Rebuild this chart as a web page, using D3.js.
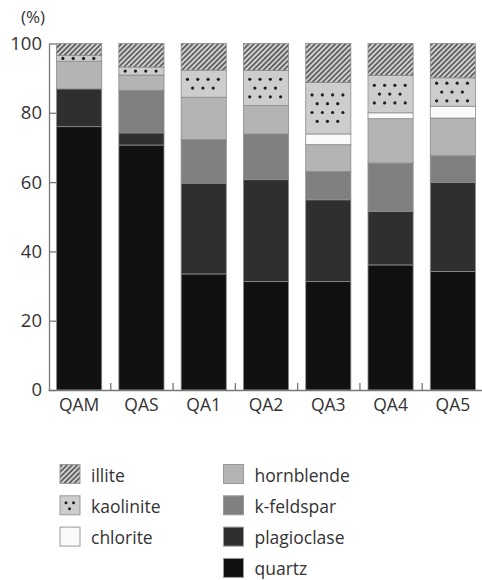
<!DOCTYPE html>
<html>
<head>
<meta charset="utf-8">
<script src="https://cdn.jsdelivr.net/npm/d3@7"></script>
<style>
  html, body { margin: 0; padding: 0; background: #fff; }
  svg { display: block; font-family: "Open Sans", "Noto Sans", sans-serif; }
</style>
</head>
<body>
<svg id="chart" width="482" height="580"></svg>
<script>
// Mineral composition (%) of each sample, stacked bottom to top.
const samples = ["QAM", "QAS", "QA1", "QA2", "QA3", "QA4", "QA5"];
const quartz      = [76.0, 70.7, 33.5, 31.3, 31.3, 36.1, 34.2];
const plagioclase = [10.9,  3.5, 26.2, 29.4, 23.6, 15.4, 25.7];
const kFeldspar   = [ 0.0, 12.3, 12.6, 13.2,  8.2, 14.0,  7.7];
const hornblende  = [ 8.0,  4.4, 12.2,  8.2,  7.7, 12.8, 10.9];
const chlorite    = [ 0.0,  0.0,  0.0,  0.0,  3.1,  1.7,  3.4];
const kaolinite   = [ 1.6,  2.3,  7.8, 10.1, 14.9, 10.8,  8.2];
const illite      = [ 3.5,  6.8,  7.7,  7.8, 11.2,  9.2,  9.9];
const yTicks = [0, 20, 40, 60, 80, 100];

const minerals = [
  { key: "quartz",      label: "quartz",      values: quartz,      fill: "#111111" },
  { key: "plagioclase", label: "plagioclase", values: plagioclase, fill: "#2f2f2f" },
  { key: "kFeldspar",   label: "k-feldspar",  values: kFeldspar,   fill: "#808080" },
  { key: "hornblende",  label: "hornblende",  values: hornblende,  fill: "#b4b4b4" },
  { key: "chlorite",    label: "chlorite",    values: chlorite,    fill: "#fafafa" },
  { key: "kaolinite",   label: "kaolinite",   values: kaolinite,   fill: "#cdcdcd" },
  { key: "illite",      label: "illite",      values: illite,      fill: "url(#hatch)" }
];

const table = samples.map((s, i) => {
  const row = { sample: s };
  minerals.forEach(m => { row[m.key] = m.values[i]; });
  return row;
});

const svg = d3.select("#chart");
const textColor = "#333";
const axisColor = "#777";
const edgeColor = "#8c8c8c";

// diagonal hatching used for illite
const defs = svg.append("defs");
const hatch = defs.append("pattern")
  .attr("id", "hatch")
  .attr("patternUnits", "userSpaceOnUse")
  .attr("width", 3.6).attr("height", 3.6)
  .attr("patternTransform", "rotate(45)");
hatch.append("rect").attr("width", 3.6).attr("height", 3.6).attr("fill", "#d2d2d2");
hatch.append("line")
  .attr("x1", 1.8).attr("y1", 0).attr("x2", 1.8).attr("y2", 3.6)
  .attr("stroke", "#4a4a4a").attr("stroke-width", 1.5);

const x = d3.scaleBand()
  .domain(samples)
  .range([48, 484])
  .paddingInner(0.275)
  .paddingOuter(0.1375);

const y = d3.scaleLinear().domain([0, 100]).range([390, 43.5]);

const stack = d3.stack().keys(minerals.map(m => m.key));
const series = stack(table);

const plot = svg.append("g");

// stacked segments
series.forEach((layer, li) => {
  const m = minerals[li];
  plot.append("g")
    .selectAll("rect")
    .data(layer.filter(d => d[1] - d[0] > 0))
    .join("rect")
    .attr("x", d => x(d.data.sample))
    .attr("width", x.bandwidth())
    .attr("y", d => y(d[1]))
    .attr("height", d => y(d[0]) - y(d[1]))
    .attr("fill", m.fill)
    .attr("stroke", edgeColor)
    .attr("stroke-width", 0.8);
});

// dot texture for kaolinite, rows centred inside each segment
const kLayer = series[minerals.findIndex(m => m.key === "kaolinite")];
const dotGroup = plot.append("g").attr("fill", "#1e1e1e");
kLayer.forEach(d => {
  const top = y(d[1]), h = y(d[0]) - y(d[1]);
  if (h <= 0) return;
  const bx = x(d.data.sample), bw = x.bandwidth();
  const rows = Math.min(4, Math.max(1, Math.floor((h + 7) / 11.5)));
  const gap = 8.8;
  const first = top + h / 2 - (rows - 1) * gap / 2;
  for (let r = 0; r < rows; r++) {
    const even = r % 2 === 0;
    const count = even ? 4 : 3;
    const start = even ? 0.14 : 0.254;
    for (let k = 0; k < count; k++) {
      dotGroup.append("circle")
        .attr("cx", bx + bw * (start + k * 0.228))
        .attr("cy", first + r * gap)
        .attr("r", 1.6);
    }
  }
});

// y axis (ticks point inward)
const yAxis = svg.append("g")
  .attr("transform", "translate(49,0)")
  .call(d3.axisLeft(y).tickValues(yTicks).tickSize(-7).tickSizeOuter(0).tickPadding(7));
yAxis.select(".domain").attr("stroke", axisColor).attr("stroke-width", 1.3);
yAxis.selectAll(".tick line").attr("stroke", axisColor).attr("stroke-width", 1.3);
yAxis.selectAll(".tick text")
  .attr("fill", textColor)
  .style("font-size", "18.5px")
  .style("font-family", "'Open Sans', sans-serif");

// x axis: baseline with inward ticks at sample boundaries
const edge = d3.scaleLinear()
  .domain([0, samples.length])
  .range([x.range()[0], x.range()[0] + x.step() * samples.length]);
const xEdges = svg.append("g")
  .attr("transform", "translate(0,390)")
  .call(d3.axisBottom(edge).tickValues(d3.range(1, samples.length + 1))
    .tickSize(-7).tickSizeOuter(0).tickFormat(""));
xEdges.select(".domain").attr("stroke", axisColor).attr("stroke-width", 1.3);
xEdges.selectAll(".tick line").attr("stroke", axisColor).attr("stroke-width", 1.3);

const xLabels = svg.append("g")
  .attr("transform", "translate(0,390)")
  .call(d3.axisBottom(x).tickSize(0).tickPadding(9));
xLabels.select(".domain").remove();
xLabels.selectAll(".tick text")
  .attr("fill", textColor)
  .style("font-size", "17.5px")
  .style("font-family", "'Open Sans', sans-serif");

// unit label
svg.append("text")
  .attr("x", 21).attr("y", 23)
  .attr("fill", textColor)
  .style("font-size", "17px")
  .text("(%)");

// legend
const legendCols = [
  ["illite", "kaolinite", "chlorite"],
  ["hornblende", "kFeldspar", "plagioclase", "quartz"]
];
const colX = [60, 223.5];
const legend = svg.append("g");
legendCols.forEach((keys, ci) => {
  keys.forEach((key, ri) => {
    const m = minerals.find(mm => mm.key === key);
    const gx = colX[ci], gy = 464.5 + ri * 31.3;
    const g = legend.append("g").attr("transform", `translate(${gx},${gy})`);
    g.append("rect")
      .attr("width", 20).attr("height", 19)
      .attr("fill", m.fill)
      .attr("stroke", "#999").attr("stroke-width", 1);
    if (key === "kaolinite") {
      [[6, 7], [13.5, 7], [9.5, 13]].forEach(([cx, cy]) => {
        g.append("circle").attr("cx", cx).attr("cy", cy).attr("r", 1.5).attr("fill", "#1e1e1e");
      });
    }
    g.append("text")
      .attr("x", 31).attr("y", 17)
      .attr("fill", textColor)
      .style("font-size", "17.5px")
      .text(m.label);
  });
});
</script>
</body>
</html>
